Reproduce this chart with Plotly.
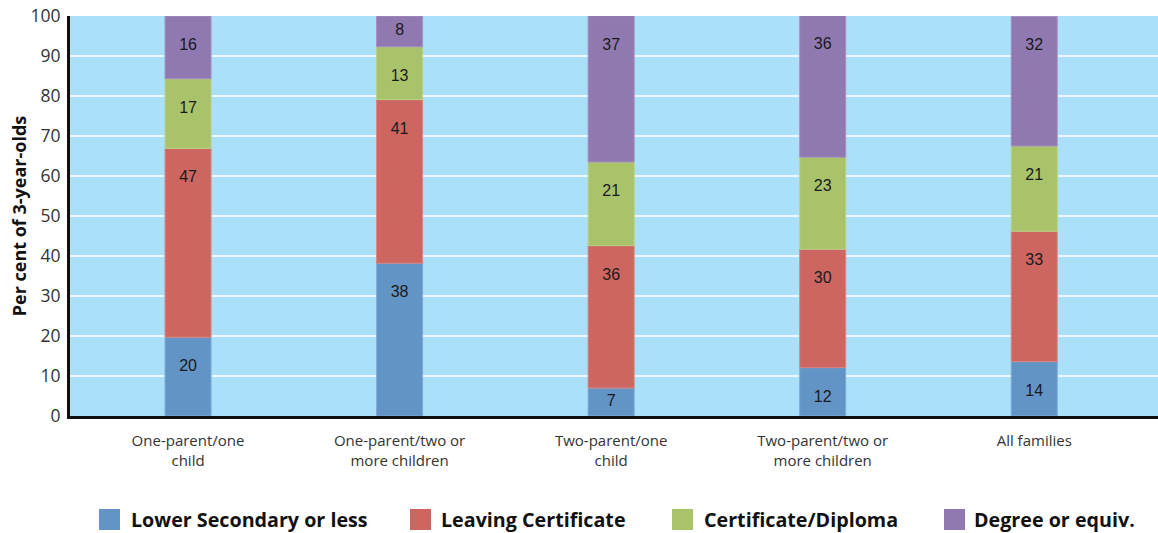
import numpy as np
import plotly.graph_objects as go

categories = ["One-parent/one<br>child", "One-parent/two or<br>more children",
              "Two-parent/one<br>child", "Two-parent/two or<br>more children",
              "All families"]
series_names = ["Lower Secondary or less", "Leaving Certificate",
                "Certificate/Diploma", "Degree or equiv."]
lower_secondary = [19.7, 38.2, 7.0, 12.1, 13.6]
leaving_cert = [47.2, 40.9, 35.6, 29.6, 32.6]
cert_diploma = [17.4, 13.2, 20.9, 23.0, 21.3]
degree = [15.7, 7.7, 36.6, 35.6, 32.4]
y_ticks = [0, 10, 20, 30, 40, 50, 60, 70, 80, 90, 100]

colors = ["#6394C6", "#CD6660", "#A9C36B", "#9079B0"]
edge_colors = ["#7FA9D6", "#D98580", "#BBD085", "#A590C0"]
series_values = [lower_secondary, leaving_cert, cert_diploma, degree]

# legend layout (paper coordinates of the hand-built legend)
legend_sq_x = [99, 410, 672, 944]
legend_txt_x = [129, 439, 702, 972]
PLOT_L, PLOT_W, PLOT_B, PLOT_H = 70, 1088, 416, 400


def px_to_paper_x(px):
    return (px - PLOT_L) / PLOT_W


def px_to_paper_y(py):
    return (PLOT_B - py) / PLOT_H


x_idx = np.arange(len(categories))
fig = go.Figure()

bottoms = np.zeros(len(categories))
label_x, label_y, label_t = [], [], []
for name, vals, col, ecol in zip(series_names, series_values, colors, edge_colors):
    v = np.array(vals, dtype=float)
    fig.add_trace(go.Bar(
        x=x_idx, y=v, base=bottoms.copy(), name=name, width=0.2175,
        marker=dict(color=col, line=dict(color=ecol, width=1)),
        showlegend=False, hoverinfo="y",
    ))
    tops = bottoms + v
    for i in range(len(v)):
        if v[i] >= 11:
            ly = tops[i] - 7.5
        else:
            ly = (tops[i] + bottoms[i]) / 2
        label_x.append(x_idx[i])
        label_y.append(ly)
        label_t.append(str(int(np.floor(v[i] + 0.5))))
    bottoms = tops

fig.add_trace(go.Scatter(
    x=label_x, y=label_y, text=label_t, mode="text",
    textposition="middle center",
    textfont=dict(family="Liberation Sans Narrow, Arial Narrow, Liberation Sans, sans-serif",
                  size=16, color="#1a1a1a"),
    showlegend=False, hoverinfo="skip",
))

# hand-built legend with large square swatches
for name, col, sx, tx in zip(series_names, colors, legend_sq_x, legend_txt_x):
    fig.add_shape(type="rect", xref="paper", yref="paper",
                  x0=px_to_paper_x(sx), x1=px_to_paper_x(sx + 21),
                  y0=px_to_paper_y(509), y1=px_to_paper_y(530),
                  fillcolor=col, line=dict(width=0))
    fig.add_annotation(xref="paper", yref="paper",
                       x=px_to_paper_x(tx), y=px_to_paper_y(519.5),
                       xanchor="left", yanchor="middle", showarrow=False,
                       text=f"<b>{name}</b>",
                       font=dict(family="Open Sans, sans-serif", size=19.7, color="#111111"))

fig.update_layout(
    width=1158, height=533,
    margin=dict(l=PLOT_L, r=0, t=16, b=117, autoexpand=False),
    paper_bgcolor="white",
    plot_bgcolor="#AAE0F9",
    barmode="overlay",
    showlegend=False,
    font=dict(family="Open Sans, sans-serif", color="#333333"),
    xaxis=dict(
        tickmode="array", tickvals=x_idx, ticktext=categories,
        range=[-0.558, 4.585], showgrid=False, zeroline=False,
        showline=True, linecolor="#111111", linewidth=3, ticks="",
        ticklabelstandoff=9,
        tickfont=dict(family="Open Sans, sans-serif", size=15, color="#333333"),
    ),
    yaxis=dict(
        range=[0, 100], tickmode="array", tickvals=y_ticks,
        showgrid=True, gridcolor="rgba(255,255,255,0.75)", gridwidth=1.5,
        zeroline=False, showline=True, linecolor="#111111", linewidth=3,
        ticks="", ticklabelstandoff=3,
        tickfont=dict(family="Open Sans, sans-serif", size=17.5, color="#333333"),
        title=dict(text="<b>Per cent of 3-year-olds</b>", standoff=0,
                   font=dict(family="Open Sans, sans-serif", size=18, color="#111111")),
    ),
)

fig.write_html("out.html",
               config={"displayModeBar": False},
               post_script="document.body.style.margin='0';document.body.style.overflow='hidden';")
